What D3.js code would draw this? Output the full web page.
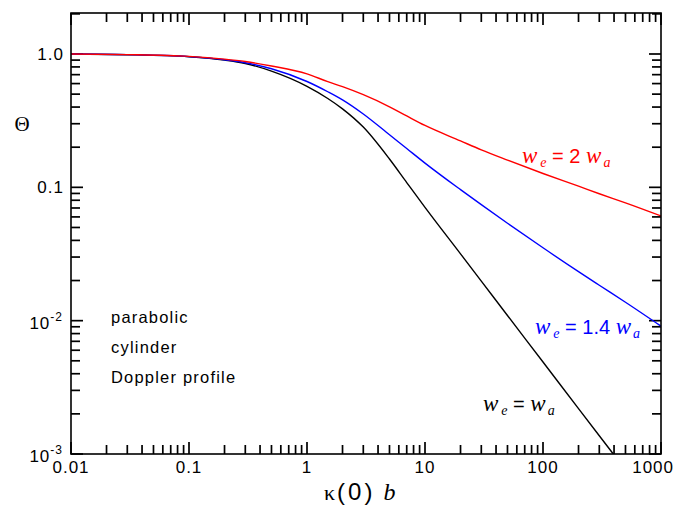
<!DOCTYPE html>
<html>
<head>
<meta charset="utf-8">
<script src="https://cdn.jsdelivr.net/npm/d3@7"></script>
<style>
  html, body { margin: 0; padding: 0; background: #fff; }
  svg { display: block; }
  .sans { font-family: "Liberation Sans", Arial, Helvetica, sans-serif; }
  .serif { font-family: "Liberation Serif", "Times New Roman", serif; }
</style>
</head>
<body>
<svg id="chart" width="675" height="508"></svg>
<script>
// Escape factor Θ versus line-centre optical depth κ(0) b
const kappaB = [0.01, 0.03, 0.1, 0.2, 0.3, 0.5, 1, 1.5, 2, 3, 5, 7, 10, 20, 30, 50, 100, 200, 300, 500, 1000];
const thetaWeEqWa = [1.0, 0.988, 0.953, 0.90, 0.849, 0.744, 0.572, 0.464, 0.388, 0.283, 0.163, 0.1086, 0.0708, 0.0317, 0.0198, 0.01093, 0.0049, 0.00219, 0.00137, 0.00076, 0.00034];
const thetaWe14Wa = [1.0, 0.99, 0.956, 0.905, 0.86, 0.775, 0.622, 0.521, 0.453, 0.355, 0.248, 0.1955, 0.152, 0.0961, 0.0741, 0.0538, 0.0352, 0.0233, 0.01843, 0.01375, 0.0091];
const thetaWe2Wa = [1.0, 0.99, 0.96, 0.915, 0.878, 0.813, 0.71, 0.62, 0.569, 0.495, 0.402, 0.343, 0.291, 0.223, 0.191, 0.16, 0.127, 0.102, 0.0895, 0.0765, 0.061];

const xTickValues = [0.01, 0.1, 1, 10, 100, 1000];
const xTickLabels = ["0.01", "0.1", "1", "10", "100", "1000"];
const yTickValues = [1, 0.1, 0.01, 0.001];
const yTickLabels = [{base: "1.0"}, {base: "0.1"}, {base: "10", exp: "-2"}, {base: "10", exp: "-3"}];

const series = [
  {name: "we=wa", values: thetaWeEqWa, color: "#000000"},
  {name: "we=1.4wa", values: thetaWe14Wa, color: "#0000ff"},
  {name: "we=2wa", values: thetaWe2Wa, color: "#ff0000"}
];

const svg = d3.select("#chart");
const L = 71, R = 661, T = 13, B = 454;

const x = d3.scaleLog().domain([0.01, 1000]).range([L, R]);
const y = d3.scaleLog().domain([1e-3, 2.03]).range([B, T]);

// inward ticks on all four sides (1..9 per decade) from the scales' tick generator
const majorLen = 12, minorLen = 9, tickW = 1.7;
function isMajor(v) {
  const r = Math.log10(v);
  return Math.abs(r - Math.round(r)) < 1e-6;
}
const tickG = svg.append("g").attr("fill", "#000");
x.ticks().forEach(v => {
  const px = x(v), len = isMajor(v) ? majorLen : minorLen;
  tickG.append("rect").attr("x", px - tickW / 2).attr("y", B - len).attr("width", tickW).attr("height", len);
  tickG.append("rect").attr("x", px - tickW / 2).attr("y", T).attr("width", tickW).attr("height", len);
});
y.ticks().forEach(v => {
  const py = y(v), len = isMajor(v) ? majorLen : minorLen;
  tickG.append("rect").attr("x", L).attr("y", py - tickW / 2).attr("width", len).attr("height", tickW);
  tickG.append("rect").attr("x", R - len).attr("y", py - tickW / 2).attr("width", len).attr("height", tickW);
});

svg.append("defs").append("clipPath").attr("id", "plotArea")
  .append("rect").attr("x", L).attr("y", T).attr("width", R - L).attr("height", B - T);

// curves
const line = d3.line()
  .x(d => x(d[0]))
  .y(d => y(d[1]))
  .curve(d3.curveMonotoneX);

const curves = svg.append("g").attr("clip-path", "url(#plotArea)");
series.forEach(s => {
  curves.append("path")
    .datum(kappaB.map((k, i) => [k, s.values[i]]))
    .attr("d", line)
    .attr("fill", "none")
    .attr("stroke", s.color)
    .attr("stroke-width", 1.4);
});

// frame
svg.append("rect").attr("x", L).attr("y", T).attr("width", R - L).attr("height", B - T)
  .attr("fill", "none").attr("stroke", "#000").attr("stroke-width", 1.6);

// x tick labels
xTickValues.forEach((v, i) => {
  const last = i === xTickValues.length - 1;
  svg.append("text").attr("class", "sans")
    .attr("x", last ? 674 : x(v)).attr("y", 473)
    .attr("text-anchor", last ? "end" : "middle")
    .attr("font-size", 17).attr("letter-spacing", 1)
    .text(xTickLabels[i]);
});

// y tick labels
yTickValues.forEach((v, i) => {
  const lab = yTickLabels[i];
  const t = svg.append("text").attr("class", "sans")
    .attr("text-anchor", "end").attr("font-size", 17).attr("letter-spacing", 1);
  if (lab.exp) {
    t.attr("x", 63).attr("y", y(v) + 8);
    t.append("tspan").text(lab.base);
    t.append("tspan").attr("font-size", 12).attr("dy", -8).text(lab.exp);
  } else {
    t.attr("x", 64).attr("y", y(v) + 6).text(lab.base);
  }
});

// axis titles
svg.append("text").attr("class", "serif")
  .attr("x", 22).attr("y", 131).attr("text-anchor", "middle")
  .attr("font-size", 21).text("Θ");

const xTitle = svg.append("text").attr("x", 324).attr("y", 500).attr("font-size", 24);
xTitle.append("tspan").attr("class", "serif").attr("font-size", 22).text("κ");
xTitle.append("tspan").attr("class", "sans").attr("dx", 2).attr("letter-spacing", 3).text("(0)");
xTitle.append("tspan").attr("class", "serif").attr("font-style", "italic").attr("dx", 8).text("b");

// curve labels
function weLabel(px, py, color, mid) {
  const t = svg.append("text").attr("x", px).attr("y", py).attr("fill", color);
  t.append("tspan").attr("class", "serif").attr("font-style", "italic").attr("font-size", 23).text("w");
  t.append("tspan").attr("class", "serif").attr("font-style", "italic").attr("font-size", 14)
    .attr("dx", 3).attr("dy", 4).text("e");
  t.append("tspan").attr("class", "sans").attr("font-size", 20).attr("dy", -4)
    .attr("xml:space", "preserve").text(mid);
  t.append("tspan").attr("class", "serif").attr("font-style", "italic").attr("font-size", 23).text("w");
  t.append("tspan").attr("class", "serif").attr("font-style", "italic").attr("font-size", 14)
    .attr("dx", 2).attr("dy", 4).text("a");
}
weLabel(522, 163, "#ff0000", " = 2 ");
weLabel(535, 334, "#0000ff", " = 1.4 ");
weLabel(483, 411, "#000000", " = ");

// annotation
const notes = ["parabolic", "cylinder", "Doppler profile"];
notes.forEach((s, i) => {
  svg.append("text").attr("class", "sans")
    .attr("x", 111).attr("y", 323 + i * 30)
    .attr("font-size", 16.5).attr("letter-spacing", 1.2)
    .text(s);
});
</script>
</body>
</html>
